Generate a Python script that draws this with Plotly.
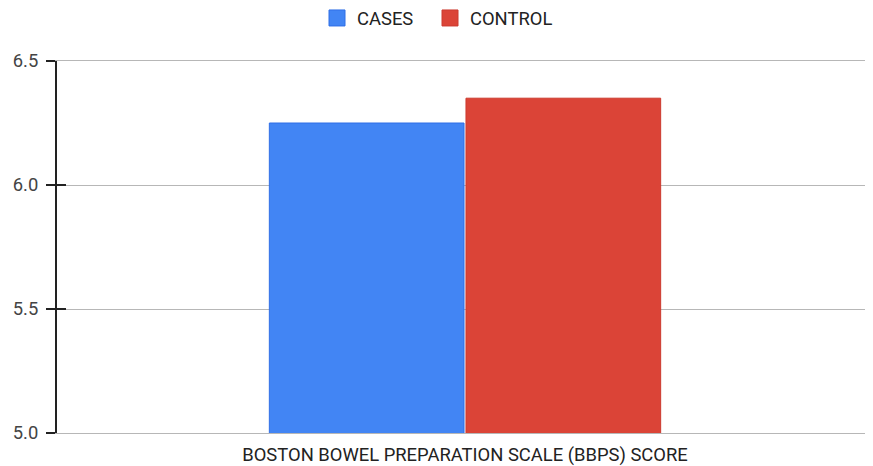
import plotly.graph_objects as go

categories = ["BOSTON BOWEL PREPARATION SCALE (BBPS) SCORE"]
series_names = ["CASES", "CONTROL"]
cases_values = [6.25]
control_values = [6.35]
y_ticks = [5.0, 5.5, 6.0, 6.5]
y_tick_labels = ["5.0", "5.5", "6.0", "6.5"]

fills = ["#4285f4", "#db4437"]
edges = ["#2f6fe6", "#cc3a2e"]
legend_ids = ["legend", "legend2"]

# page body has an 8px margin; size figure so the plot lands where the reference has it
W, H = 865, 458

fig = go.Figure()
for name, vals, fc, ec in zip(series_names, [cases_values, control_values], fills, edges):
    fig.add_trace(go.Bar(name=name, x=categories, y=vals, showlegend=False,
                         marker=dict(color=fc, line=dict(color=ec, width=1))))
# legend entries with larger square swatches
for name, fc, ec, lg in zip(series_names, fills, edges, legend_ids):
    fig.add_trace(go.Scatter(name=name, x=categories, y=[None], mode="markers",
                             legend=lg,
                             marker=dict(symbol="square", size=16, color=fc,
                                         line=dict(color=ec, width=1)),
                             hoverinfo="skip"))

# helper trace on overlaid axis for inward tick halves
fig.add_trace(go.Scatter(x=categories, y=[None], yaxis="y2", showlegend=False,
                         hoverinfo="skip"))

yr = [5.0, 6.5]

legend_common = dict(orientation="h", xref="container", xanchor="left",
                     yref="container", y=1 - 10 / H, yanchor="middle",
                     itemsizing="trace", itemwidth=30,
                     font=dict(size=18.4, color="#222"))

fig.update_layout(
    width=W, height=H,
    margin=dict(l=49, r=0, t=53, b=33),
    paper_bgcolor="white", plot_bgcolor="white",
    font=dict(family="Roboto", size=18.4, color="#444"),
    barmode="group", bargap=0.518, bargroupgap=0.01,
    legend=dict(x=(329 - 8 - 12) / W, **legend_common),
    legend2=dict(x=(442 - 8 - 12) / W, **legend_common),
    xaxis=dict(showgrid=False, showline=True, linecolor="#b7b7b7", linewidth=1,
               mirror=True, ticks="", automargin=False,
               ticklabelstandoff=5,
               tickfont=dict(size=18.4, color="#222")),
    yaxis=dict(range=yr, tickvals=y_ticks, ticktext=y_tick_labels,
               showgrid=True, gridcolor="#b7b7b7", gridwidth=1,
               showline=True, linecolor="#222", linewidth=2, automargin=False,
               ticks="outside", ticklen=9, tickwidth=2, tickcolor="#222",
               ticklabelstandoff=4,
               tickfont=dict(size=18.4, color="#444"), zeroline=False),
    yaxis2=dict(range=yr, tickvals=y_ticks, overlaying="y", side="left",
                showgrid=False, showline=False, showticklabels=False,
                ticks="inside", ticklen=9, tickwidth=2, tickcolor="#222",
                zeroline=False, automargin=False),
)

fig.write_html("out.html")
